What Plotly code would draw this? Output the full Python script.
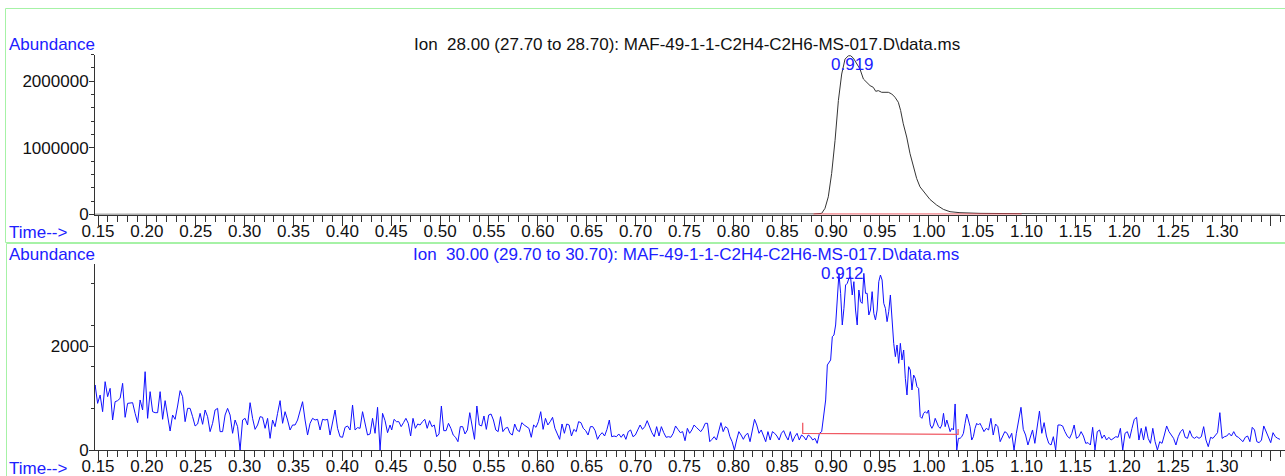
import numpy as np
import plotly.graph_objects as go

# ---------------- DATA ----------------
# Ion 28 trace (time in min, abundance)
ion28_time = [0.145, 0.50, 0.8818, 0.8904, 0.8938, 0.8972, 0.9006, 0.9041, 0.9075, 0.9109,
              0.9143, 0.9177, 0.9201, 0.9228, 0.9262, 0.9296, 0.9331, 0.9365, 0.9399, 0.9432,
              0.9457, 0.9484, 0.9518, 0.9552, 0.9586, 0.9621, 0.9654, 0.9688, 0.9712, 0.9739,
              0.9774, 0.9808, 0.9842, 0.9876, 0.9910, 0.9961, 1.0012, 1.0080, 1.0149, 1.0217,
              1.0319, 1.0524, 1.0865, 1.1206, 1.1479, 1.3593]
ion28_abund = [3000, 3000, 7000, 17000, 92000, 266000, 614000, 1112000, 1709000, 2107000,
               2331000, 2381000, 2381000, 2346000, 2256000, 2182000, 2032000, 1983000, 1933000, 1908000,
               1848000, 1858000, 1833000, 1833000, 1833000, 1808000, 1759000, 1684000, 1560000, 1361000,
               1162000, 913000, 714000, 540000, 415000, 316000, 226000, 142000, 77000, 42000,
               27000, 17000, 12000, 17000, 7000, 3000]
ion28_base_time = [0.882, 1.095]
ion28_base_abund = [5000, 5000]
ion28_peak_rt = "0.919"

# Ion 30 trace: scan segments (start time, end time, abundances of equally spaced scans)
ion30_seg_bounds = [(0.1445, 0.4488), (0.4505, 0.7506), (0.7530, 0.8904), (0.8928, 1.0524), (1.0541, 1.3593)]
ion30_seg1 = [962, 1250, 897, 1058, 737, 1314, 1026, 1186, 577, 929,
              949, 994, 1282, 628, 897, 897, 910, 705, 526, 962,
              769, 1506, 609, 1122, 737, 718, 718, 1122, 590, 949,
              673, 365, 673, 590, 846, 1141, 1026, 545, 801, 801,
              641, 462, 500, 705, 494, 769, 641, 353, 513, 769,
              801, 353, 353, 673, 801, 673, 321, 577, 449, 0,
              577, 609, 481, 910, 609, 397, 481, 641, 628, 417,
              609, 224, 577, 449, 705, 949, 513, 737, 577, 385,
              481, 481, 577, 737, 929, 577, 288, 513, 609, 577,
              590, 385, 590, 577, 590, 288, 513, 769, 417, 256,
              244, 436, 462, 385, 865, 385, 430, 417, 737, 481,
              288, 308, 609, 321, 821, 0, 705, 564, 333, 481]
ion30_seg2 = [385, 590, 545, 545, 449, 526, 609, 513, 269, 609, 417, 500, 481, 545, 590, 417, 564, 449,
              481, 256, 308, 846, 372, 372, 513, 417, 288, 244, 160, 449, 449, 308, 385, 718, 481, 205,
              846, 481, 462, 654, 397, 673, 692, 577, 385, 353, 641, 353, 417, 436, 321, 288, 500, 385,
              353, 526, 481, 449, 417, 244, 481, 436, 545, 737, 397, 609, 481, 545, 628, 417, 321, 205,
              500, 321, 500, 481, 269, 397, 353, 545, 526, 417, 372, 288, 449, 449, 372, 205, 288, 333,
              269, 397, 577, 256, 269, 256, 308, 244, 308, 205, 353, 385, 256, 288, 385, 481, 397, 449,
              564, 436, 333, 256, 449, 269, 449, 333, 244, 256, 244, 321, 462, 397, 333, 353, 179]
ion30_seg3 = [417, 321, 385, 481, 436, 385, 353, 417, 513, 513, 160, 205, 256, 192, 385, 526, 353, 449,
              417, 256, 160, 0, 192, 353, 288, 205, 288, 321, 160, 353, 590, 481, 321, 385, 288, 160,
              353, 192, 353, 321, 269, 192, 321, 372, 269, 192, 353, 160, 256, 321, 192, 288, 256, 192,
              288, 256, 192, 224, 128, 321, 353]
ion30_seg4 = [705, 962, 1635, 1699, 1731, 2179, 2211, 2404, 2820, 3397, 3013, 2404, 2724, 3173, 3205,
              3301, 3333, 2981, 3237, 2692, 2404, 3077, 2852, 2820, 3397, 3013, 3013, 2596, 2692, 3045,
              2628, 2500, 2692, 3237, 3365, 3269, 2820, 2724, 2468, 2660, 2981, 2500, 2051, 1795, 2019,
              1667, 2051, 1731, 1923, 1378, 1058, 1603, 1538, 1154, 1442, 1378, 1218, 1186, 641, 609,
              705, 737, 705, 769, 481, 417, 481, 609, 513, 449, 417, 481, 705, 449, 577, 449, 353, 417,
              385, 885, 0, 224, 224, 256, 321, 513, 692, 577, 449, 192, 256, 417, 513, 481, 513]
ion30_seg5 = [449, 353, 417, 385, 609, 288, 500, 449, 160, 269, 353, 321, 224, 321, 0, 321, 577, 821,
              397, 288, 96, 224, 385, 128, 449, 750, 321, 526, 269, 128, 96, 256, 0, 481, 481, 462,
              353, 269, 224, 321, 481, 224, 256, 353, 269, 128, 141, 96, 436, 0, 353, 385, 224, 288,
              192, 244, 192, 224, 256, 244, 417, 0, 321, 353, 224, 417, 590, 628, 192, 417, 192, 449,
              224, 128, 417, 160, 0, 160, 128, 288, 462, 353, 288, 224, 96, 256, 353, 397, 244, 224,
              372, 256, 224, 256, 224, 256, 449, 192, 64, 244, 224, 288, 333, 718, 224, 256, 269, 321,
              269, 353, 269, 244, 205, 160, 244, 269, 160, 436, 385, 160, 141, 192, 462, 353, 224, 141,
              333, 256, 224, 205]
ion30_base_time = [0.871, 0.871, 1.030, 1.030]
ion30_base_abund = [526, 321, 301, 404]
ion30_peak_rt = "0.912"

x_tick_labels = ["0.15", "0.20", "0.25", "0.30", "0.35", "0.40", "0.45", "0.50", "0.55", "0.60",
                 "0.65", "0.70", "0.75", "0.80", "0.85", "0.90", "0.95", "1.00", "1.05", "1.10",
                 "1.15", "1.20", "1.25", "1.30", ""]
x_tick_vals = [0.15 + 0.05 * i for i in range(len(x_tick_labels))]
top_y_ticks = [0, 1000000, 2000000]
bot_y_ticks = [0, 2000]

title28 = "Ion\u00a0 28.00 (27.70 to 28.70): MAF-49-1-1-C2H4-C2H6-MS-017.D\\data.ms"
title30 = "Ion\u00a0 30.00 (29.70 to 30.70): MAF-49-1-1-C2H4-C2H6-MS-017.D\\data.ms"

# ------------- build ion 30 time axis -------------
segs = [ion30_seg1, ion30_seg2, ion30_seg3, ion30_seg4, ion30_seg5]
ion30_time, ion30_abund = [], []
for (t0, t1), vals in zip(ion30_seg_bounds, segs):
    ion30_time.extend(np.linspace(t0, t1, len(vals)).tolist())
    ion30_abund.extend(vals)

# ---------------- FIGURE ----------------
W, H = 1285, 476
FONT = "Liberation Sans, Arial, sans-serif"
FS = 17
BLUE = "#2020ff"
AXC = "#333333"

def px(x):
    return x / W

def py(y):
    return 1 - y / H

fig = go.Figure()
fig.add_trace(go.Scatter(x=ion28_time, y=ion28_abund, mode="lines",
                         line=dict(color="#353535", width=1), xaxis="x", yaxis="y", hoverinfo="skip"))
fig.add_trace(go.Scatter(x=ion28_base_time, y=ion28_base_abund, mode="lines",
                         line=dict(color="rgb(232,70,80)", width=1.3), xaxis="x", yaxis="y", hoverinfo="skip"))
fig.add_trace(go.Scatter(x=ion30_time, y=ion30_abund, mode="lines",
                         line=dict(color="#1010ff", width=1), xaxis="x2", yaxis="y2", hoverinfo="skip"))
fig.add_trace(go.Scatter(x=ion30_base_time, y=ion30_base_abund, mode="lines",
                         line=dict(color="rgb(240,90,100)", width=1.3), xaxis="x2", yaxis="y2", hoverinfo="skip"))

xr = [0.15 + (95 - 98) / 977.4, 0.15 + (1285 - 98) / 977.4]

def xaxis_cfg(anchor):
    return dict(domain=[px(95), 1], range=xr, anchor=anchor, automargin=False,
                tickmode="array", tickvals=x_tick_vals, ticktext=x_tick_labels,
                ticks="outside", ticklen=10, tickwidth=1, tickcolor=AXC,
                ticklabelstandoff=-9,
                showline=True, linecolor=AXC, linewidth=1,
                showgrid=False, zeroline=False,
                tickfont=dict(family=FONT, size=FS, color="#111111"),
                minor=dict(tickmode="linear", tick0=0.15, dtick=0.01, ticks="outside",
                           ticklen=6, tickwidth=1, tickcolor=AXC, showgrid=False))

def yaxis_cfg(anchor, dom, rng, vals, mdt):
    return dict(domain=dom, range=rng, anchor=anchor, automargin=False,
                tickmode="array", tickvals=vals, ticktext=[str(v) for v in vals],
                ticks="outside", ticklen=5, tickwidth=1, tickcolor=AXC,
                ticklabelstandoff=-3,
                showline=True, linecolor=AXC, linewidth=1,
                showgrid=False, zeroline=False,
                tickfont=dict(family=FONT, size=FS, color="#111111"),
                minor=dict(tickmode="linear", tick0=0, dtick=mdt, ticks="outside",
                           ticklen=3, tickwidth=1, tickcolor=AXC, showgrid=False))

fig.update_layout(
    width=W, height=H, margin=dict(l=0, r=0, t=0, b=0, pad=0), autosize=False,
    paper_bgcolor="white", plot_bgcolor="white", showlegend=False,
    font=dict(family=FONT, size=FS, color="#111111"),
    xaxis=xaxis_cfg("y"),
    yaxis=yaxis_cfg("x", [py(214.5), py(54.5)], [0, 2400000], top_y_ticks, 200000),
    xaxis2=xaxis_cfg("y2"),
    yaxis2=yaxis_cfg("x2", [py(450), py(264)], [0, 3577], bot_y_ticks, 800),
)

ann = []
def txt(x, y, s, color, xanchor="left"):
    ann.append(dict(x=px(x), y=py(y), xref="paper", yref="paper", text=s, showarrow=False,
                    xanchor=xanchor, yanchor="middle", font=dict(family=FONT, size=FS, color=color)))

txt(7, 44, "Abundance", BLUE)
txt(7, 232, "Time-->", BLUE)
txt(7, 254, "Abundance", BLUE)
txt(7, 468, "Time-->", BLUE)
txt(412, 44, title28, "#111111")
txt(411, 254, title30, BLUE)
ann.append(dict(x=0.9215, y=2246000, xref="x", yref="y", text=ion28_peak_rt, showarrow=False,
                xanchor="center", yanchor="middle", font=dict(family=FONT, size=FS, color=BLUE)))
ann.append(dict(x=0.9122, y=3404, xref="x2", yref="y2", text=ion30_peak_rt, showarrow=False,
                xanchor="center", yanchor="middle", font=dict(family=FONT, size=FS, color=BLUE)))
fig.update_layout(annotations=ann)

GREEN = "#a6f2a6"
fig.update_layout(shapes=[
    dict(type="rect", xref="paper", yref="paper", x0=px(5.5), x1=1.01, y0=py(242.5), y1=py(8.5),
         line=dict(color=GREEN, width=1), layer="below"),
    dict(type="rect", xref="paper", yref="paper", x0=px(6.5), x1=1.01, y0=-0.01, y1=py(243.5),
         line=dict(color=GREEN, width=1), layer="below"),
])

fig.write_html("out.html")
